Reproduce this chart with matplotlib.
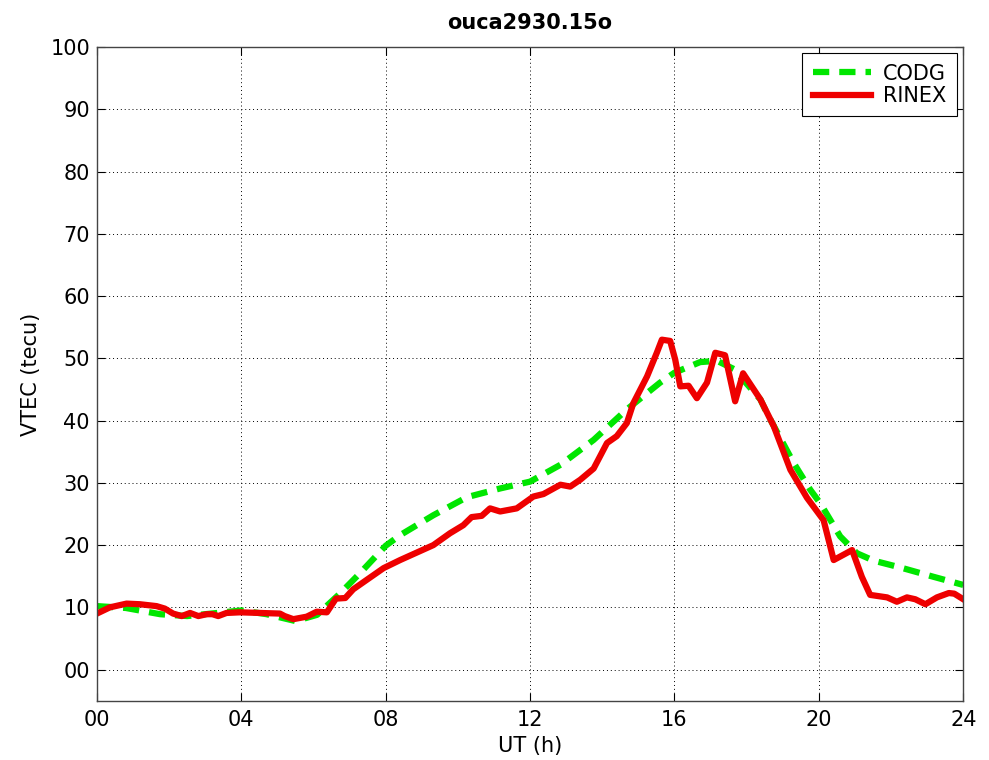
import matplotlib.pyplot as plt

plt.rcParams['font.family'] = ['DejaVu Sans']

# CODG (green dashed)
codg_t = [0.0, 0.8, 1.75, 2.5, 3.0, 4.0, 4.7, 5.5, 6.1, 6.73, 7.29, 8.0, 8.4,
          9.32, 10.25, 11.17, 12.0, 12.84, 13.76, 14.68, 15.6, 16.0, 16.71,
          17.18, 17.64, 18.38, 18.56, 19.3, 19.76, 20.04, 20.59, 21.05, 21.52,
          22.26, 23.18, 24.0]
codg_v = [10.2, 9.9, 8.9, 8.6, 8.9, 9.5, 8.9, 7.8, 8.8, 12.2, 15.5, 19.9, 21.6,
          24.8, 27.7, 29.1, 30.2, 32.9, 36.9, 41.8, 46.1, 47.7, 49.4,
          49.6, 48.3, 43.4, 41.2, 33.2, 28.9, 26.7, 21.4, 18.7, 17.5,
          16.4, 14.9, 13.6]

# RINEX (red solid)
rinex_t = [0.0, 0.36, 0.82, 1.19, 1.65, 1.88, 2.11, 2.35, 2.58, 2.81, 3.04, 3.2,
           3.36, 3.59, 3.96, 4.52, 5.07, 5.2, 5.44, 5.81, 6.09, 6.37, 6.62, 6.88,
           7.1, 7.47, 7.94, 8.4, 8.86, 9.32, 9.78, 10.15, 10.38, 10.66, 10.89,
           11.17, 11.63, 12.09, 12.37, 12.84, 13.11, 13.39, 13.76, 14.13, 14.4,
           14.68, 14.86, 15.24, 15.51, 15.65, 15.88, 16.02, 16.16, 16.39, 16.62,
           16.9, 17.13, 17.4, 17.68, 17.9, 18.38, 18.75, 19.21, 19.67, 20.13,
           20.41, 20.92, 21.19, 21.42, 21.89, 22.16, 22.44, 22.67, 22.95, 23.27,
           23.6, 23.75, 24.0]
rinex_v = [9.0, 10.0, 10.6, 10.5, 10.2, 9.8, 9.0, 8.6, 9.1, 8.6, 8.9, 8.9,
           8.6, 9.1, 9.2, 9.1, 9.0, 8.6, 8.1, 8.5, 9.3, 9.2, 11.4, 11.5,
           12.9, 14.4, 16.3, 17.6, 18.8, 20.0, 21.9, 23.2, 24.5, 24.7, 25.9,
           25.4, 25.9, 27.8, 28.2, 29.7, 29.4, 30.5, 32.3, 36.4, 37.5,
           39.6, 42.8, 47.1, 50.9, 53.0, 52.8, 49.8, 45.5, 45.6, 43.6,
           46.1, 50.9, 50.5, 43.1, 47.6, 43.4, 39.1, 32.1, 27.6, 24.0,
           17.6, 19.2, 14.9, 12.0, 11.6, 10.9, 11.6, 11.3, 10.5, 11.6,
           12.3, 12.2, 11.3]

xticks = [0, 4, 8, 12, 16, 20, 24]
xlabels = ['00', '04', '08', '12', '16', '20', '24']
yticks = [0, 10, 20, 30, 40, 50, 60, 70, 80, 90, 100]
ylabels = ['00', '10', '20', '30', '40', '50', '60', '70', '80', '90', '100']

fig = plt.figure(figsize=(9.89, 7.6), dpi=100)
ax = fig.add_axes([0.098, 0.078, 0.876, 0.86])

ax.plot(codg_t, codg_v, color='#00e600', lw=4.5, ls=(0, (2.6, 1.6)), label='CODG')
ax.plot(rinex_t, rinex_v, color='#ee0000', lw=4.5, label='RINEX')

ax.set_xlim(0, 24)
ax.set_ylim(-5, 100)
ax.set_xticks(xticks)
ax.set_xticklabels(xlabels)
ax.set_yticks(yticks)
ax.set_yticklabels(ylabels)
ax.tick_params(direction='in', top=True, right=True, length=6, labelsize=15)
ax.tick_params(axis='x', pad=7)
ax.tick_params(axis='y', pad=5)
ax.grid(True, color='black', ls=(0, (1, 3)), lw=0.7)

for s in ax.spines.values():
    s.set_linewidth(1.0)
    s.set_color('#444444')

ax.set_xlabel('UT (h)', fontsize=15, labelpad=4)
ax.set_ylabel('VTEC (tecu)', fontsize=15, labelpad=7)
ax.set_title('ouca2930.15o', fontsize=15, fontweight='bold', pad=13)

leg = ax.legend(loc='upper right', fontsize=15, handlelength=2.8, fancybox=False,
                edgecolor='black', framealpha=1, borderpad=0.5, labelspacing=0.1,
                handletextpad=0.6, borderaxespad=0.3)
leg.get_frame().set_linewidth(0.8)

fig.savefig('out.png', dpi=100)
